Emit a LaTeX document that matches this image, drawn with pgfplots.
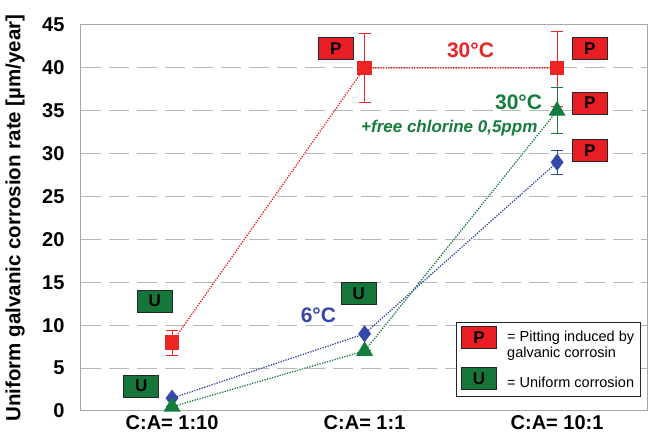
\documentclass[border=0pt]{standalone}
\usepackage{fontspec}
\setmainfont{Liberation Sans}
\usepackage{pgfplots}
\pgfplotsset{compat=1.18}
\definecolor{cred}{RGB}{236,36,36}
\definecolor{cgreen}{RGB}{20,125,60}
\definecolor{cblue}{RGB}{52,72,170}
\definecolor{bred}{RGB}{232,30,36}
\definecolor{bgreen}{RGB}{22,118,58}
\tikzset{
  pbox/.style={draw=black!85, line width=1pt, fill=bred, minimum width=35pt, minimum height=22pt, inner sep=0pt, font=\fontsize{17}{17}\selectfont\bfseries},
  ubox/.style={pbox, fill=bgreen},
}
\begin{document}
\begin{tikzpicture}
\begin{axis}[
  scale only axis,
  width=566pt, height=386pt,
  xmin=-0.473, xmax=2.467,
  ymin=0, ymax=45,
  ytick={0,5,...,45},
  xtick={0,1,2},
  xticklabels={C:A= 1:10, C:A= 1:1, C:A= 10:1},
  major tick length=0pt,
  axis line style={black!35, line width=1pt},
  ymajorgrids,
  grid style={black!28, line width=1pt, dash pattern=on 20pt off 8pt},
  /pgf/number format/assume math mode=true,
  tick label style={font=\fontsize{20}{22}\selectfont\bfseries},
  yticklabel style={xshift=-13pt},
  xticklabel style={yshift=-1pt},
  ylabel={Uniform galvanic corrosion rate [µm/year]},
  ylabel style={at={(axis description cs:0,0.5)}, anchor=center, yshift=66pt, font=\fontsize{20.5}{22}\selectfont\bfseries},
  clip=false,
]
% 30 C
\addplot[color=cred, line width=1.3pt, dash pattern=on 1.3pt off 1.3pt,
  mark=square*, mark size=6.5pt, mark options={solid, fill=cred},
  error bars/.cd, y dir=both, y explicit,
  error bar style={line width=1pt, solid, color=cred},
  error mark options={rotate=90, mark size=6pt, line width=1pt, color=cred}]
coordinates {(0,8) += (0,1.4) -= (0,1.5) (1,40) += (0,4) -= (0,4) (2,40) += (0,4.3) -= (0,4.5)};
% 6 C
\addplot[color=cblue, line width=1.3pt, dash pattern=on 1.3pt off 1.3pt,
  mark=diamond*, mark size=7.5pt, mark options={solid, fill=cblue},
  error bars/.cd, y dir=both, y explicit,
  error bar style={line width=1pt, solid, color=cblue},
  error mark options={rotate=90, mark size=6pt, line width=1pt, color=cblue}]
coordinates {(0,1.5) += (0,0) -= (0,0) (1,9) += (0,0) -= (0,0) (2,29) += (0,1.4) -= (0,1.4)};
% 30 C + chlorine
\addplot[color=cgreen, line width=1.3pt, dash pattern=on 1.3pt off 1.3pt,
  mark=triangle*, mark size=8.5pt, mark options={solid, fill=cgreen},
  error bars/.cd, y dir=both, y explicit,
  error bar style={line width=1pt, solid, color=cgreen},
  error mark options={rotate=90, mark size=6pt, line width=1pt, color=cgreen}]
coordinates {(0,0.5) += (0,0) -= (0,0) (1,7) += (0,0) -= (0,0) (2,35) += (0,2.7) -= (0,2.7)};

% annotation boxes
\node[pbox] at (axis cs:0.85,42.3) {P};
\node[pbox] at (axis cs:2.17,42.3) {P};
\node[pbox] at (axis cs:2.17,35.9) {P};
\node[pbox] at (axis cs:2.17,30.4) {P};
\node[ubox] at (axis cs:-0.09,12.8) {U};
\node[ubox] at (axis cs:-0.16,2.9) {U};
\node[ubox] at (axis cs:0.97,13.7) {U};

% labels
\node[text=cred, font=\fontsize{21}{21}\selectfont\bfseries] at (axis cs:1.55,42.0) {30°C};
\node[text=cgreen, font=\fontsize{21}{21}\selectfont\bfseries] at (axis cs:1.80,36.0) {30°C};
\node[text=cgreen, font=\fontsize{17}{17}\selectfont\bfseries\itshape] at (axis cs:1.44,33.0) {+free chlorine 0,5ppm};
\node[text=cblue, font=\fontsize{21}{21}\selectfont\bfseries] at (axis cs:0.76,11.2) {6°C};

% legend
\node[draw=black!85, line width=1pt, fill=white, anchor=south east, minimum width=184pt, minimum height=74pt, inner sep=0pt, xshift=-6pt, yshift=14pt] (leg) at (rel axis cs:1,0) {};
\node[pbox] at ([xshift=23pt, yshift=-16pt]leg.north west) {P};
\node[ubox] at ([xshift=23pt, yshift=-57pt]leg.north west) {U};
\node[anchor=west, align=left, inner sep=0pt, font=\fontsize{14.5}{16.5}\selectfont] at ([xshift=51pt, yshift=-24pt]leg.north west) {= Pitting induced by\\galvanic corrosin};
\node[anchor=west, inner sep=0pt, font=\fontsize{14.5}{16.5}\selectfont] at ([xshift=51pt, yshift=-60pt]leg.north west) {= Uniform corrosion};
\end{axis}
\pgfresetboundingbox
\path ([xshift=-81pt,yshift=-26pt]current axis.south west) rectangle ([xshift=2pt,yshift=25pt]current axis.north east);
\end{tikzpicture}
\end{document}
